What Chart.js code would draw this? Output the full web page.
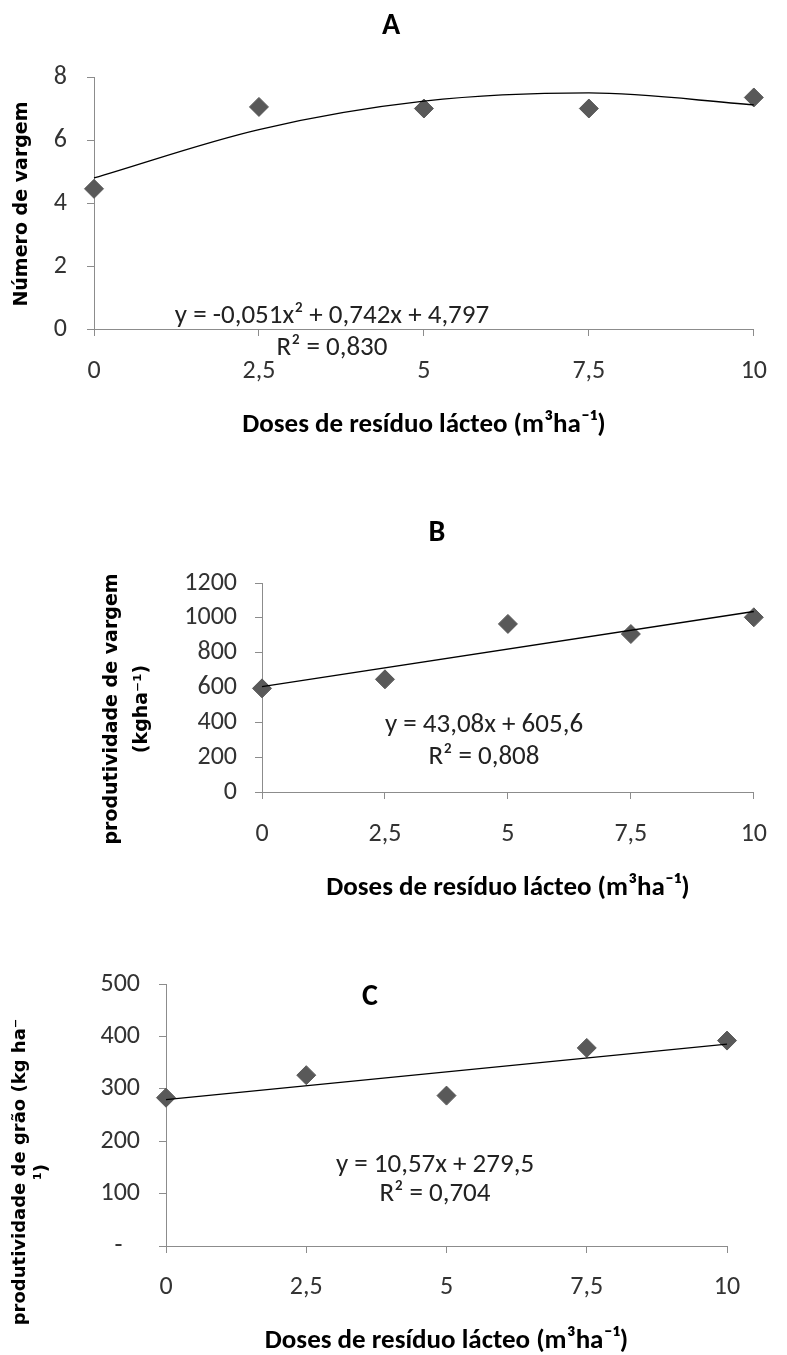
<!DOCTYPE html>
<html>
<head>
<meta charset="utf-8">
<script src="https://cdn.jsdelivr.net/npm/chart.js@4.4.1/dist/chart.umd.min.js"></script>
<style>
    html, body { margin: 0; padding: 0; background: #fff; }
    body { width: 787px; height: 1355px; position: relative; overflow: hidden; }
    canvas { position: absolute; left: 0; }
</style>
</head>
<body>
<canvas id="chartA" width="787" height="450" style="top:0px"></canvas>
<canvas id="chartB" width="787" height="440" style="top:470px"></canvas>
<canvas id="chartC" width="787" height="445" style="top:910px"></canvas>
<script>
// doses de resíduo lácteo (m³/ha)
const doses = [0, 2.5, 5, 7.5, 10];

// A - número de vagens
const vagensA = [4.45, 7.05, 7.0, 7.0, 7.35];
const trendA = [4.797, 6.333, 7.232, 7.493, 7.117]; // read at each dose

// B - produtividade de vagem
const vargemB = [595, 647, 965, 907, 1003];
const trendB = [605.6, 1036.4];

// C - produtividade de grão
const graoC = [283, 326, 287, 378, 392];
const trendC = [279.5, 385.2];

const trendEnds = [0, 10];

const ticksA = [0, 2, 4, 6, 8];
const ticksB = [0, 200, 400, 600, 800, 1000, 1200];
const ticksC = [0, 100, 200, 300, 400, 500];

const NARROW = 'Carlito, "Liberation Sans Narrow", "DejaVu Sans Condensed", sans-serif';
const WIDE = '"DejaVu Sans", Verdana, sans-serif';
const AXIS = '#8c8c8c';
const MARKER = '#595959';
const XTITLE = 'Doses de resíduo lácteo (m³ha⁻¹)';

const freeText = {
    id: 'freeText',
    afterDraw(chart, _, opts) {
        const ctx = chart.ctx;
        for (const t of opts.items || []) {
            ctx.save();
            ctx.font = t.font;
            ctx.fillStyle = t.color || '#000';
            ctx.textAlign = 'center';
            ctx.textBaseline = 'middle';
            ctx.translate(t.x, t.y);
            if (t.rotate) ctx.rotate(-Math.PI / 2);
            ctx.fillText(t.text, 0, 0);
            ctx.restore();
        }
    },
};

const comma = v => String(v).replace('.', ',');

function points(xs, ys) {
    return xs.map((x, i) => ({ x, y: ys[i] }));
}

function makeChart(id, c) {
    return new Chart(document.getElementById(id), {
        type: 'scatter',
        data: {
            datasets: [
                {
                    data: points(c.trendX, c.trendY),
                    showLine: true,
                    borderColor: '#000',
                    borderWidth: 1.3,
                    pointRadius: 0,
                    cubicInterpolationMode: 'monotone',
                    clip: false,
                },
                {
                    data: points(doses, c.values),
                    pointStyle: 'rectRot',
                    pointRadius: 9.5,
                    backgroundColor: MARKER,
                    borderColor: MARKER,
                    borderWidth: 1,
                    clip: false,
                },
            ],
        },
        options: {
            responsive: false,
            animation: false,
            events: [],
            layout: { padding: { top: c.top, right: c.right, left: 0, bottom: 0 } },
            plugins: {
                legend: { display: false },
                tooltip: { enabled: false },
                freeText: { items: c.texts },
            },
            scales: {
                x: {
                    type: 'linear',
                    min: 0,
                    max: 10,
                    afterBuildTicks: s => { s.ticks = doses.map(v => ({ value: v })); },
                    ticks: {
                        padding: c.xPad,
                        color: '#333',
                        font: { family: NARROW, size: 26 },
                        callback: comma,
                    },
                    grid: { drawOnChartArea: false, tickLength: 7, color: AXIS },
                    border: { color: AXIS },
                    title: {
                        display: true,
                        text: XTITLE,
                        color: '#000',
                        font: { family: NARROW, size: 27, weight: 'bold', lineHeight: 1 },
                        padding: { top: 0, bottom: c.titlePad },
                    },
                    afterFit: s => { s.height = c.xHeight; },
                },
                y: {
                    min: c.ticks[0],
                    max: c.ticks[c.ticks.length - 1],
                    afterBuildTicks: s => { s.ticks = c.ticks.map(v => ({ value: v })); },
                    ticks: {
                        padding: c.yPad,
                        color: '#333',
                        font: { family: NARROW, size: 26 },
                        callback: c.yLabel || (v => v),
                    },
                    grid: { drawOnChartArea: false, tickLength: 7, color: AXIS },
                    border: { color: AXIS },
                    afterFit: s => { s.width = c.yWidth; },
                },
            },
        },
        plugins: [freeText],
    });
}

const titleFont = 'bold 30px ' + NARROW;
const eqFont = '27px ' + NARROW;
const yTitleFont = 'bold 19px ' + WIDE;

makeChart('chartA', {
    values: vagensA, trendX: doses, trendY: trendA, ticks: ticksA,
    top: 77, right: 20, yWidth: 94, xHeight: 121,
    xPad: 20, yPad: 20, titlePad: 11,
    texts: [
        { text: 'A', x: 391, y: 26, font: titleFont },
        { text: 'Número de vargem', x: 22, y: 204, rotate: true, font: yTitleFont },
        { text: 'y = -0,051x² + 0,742x + 4,797', x: 332, y: 316, font: eqFont, color: '#222' },
        { text: 'R² = 0,830', x: 332, y: 348, font: eqFont, color: '#222' },
    ],
});

makeChart('chartB', {
    values: vargemB, trendX: trendEnds, trendY: trendB, ticks: ticksB,
    top: 113, right: 20, yWidth: 262, xHeight: 118,
    xPad: 20, yPad: 18, titlePad: 8,
    texts: [
        { text: 'B', x: 437, y: 63, font: titleFont },
        { text: 'produtividade de vargem', x: 112, y: 239, rotate: true, font: yTitleFont },
        { text: '(kgha⁻¹)', x: 142, y: 239, rotate: true, font: yTitleFont },
        { text: 'y = 43,08x + 605,6', x: 484, y: 255, font: eqFont, color: '#222' },
        { text: 'R² = 0,808', x: 484, y: 287, font: eqFont, color: '#222' },
    ],
});

makeChart('chartC', {
    values: graoC, trendX: trendEnds, trendY: trendC, ticks: ticksC,
    top: 74, right: 60, yWidth: 166, xHeight: 109,
    xPad: 19, yPad: 19, titlePad: 0,
    yLabel: v => (v === 0 ? '-   ' : v),
    texts: [
        { text: 'C', x: 370, y: 87, font: titleFont },
        { text: 'produtividade de grão (kg ha⁻', x: 20, y: 262, rotate: true, font: 'bold 18px ' + WIDE },
        { text: '¹)', x: 42, y: 262, rotate: true, font: 'bold 18px ' + WIDE },
        { text: 'y = 10,57x + 279,5', x: 435, y: 255, font: eqFont, color: '#222' },
        { text: 'R² = 0,704', x: 435, y: 284, font: eqFont, color: '#222' },
    ],
});
</script>
</body>
</html>
